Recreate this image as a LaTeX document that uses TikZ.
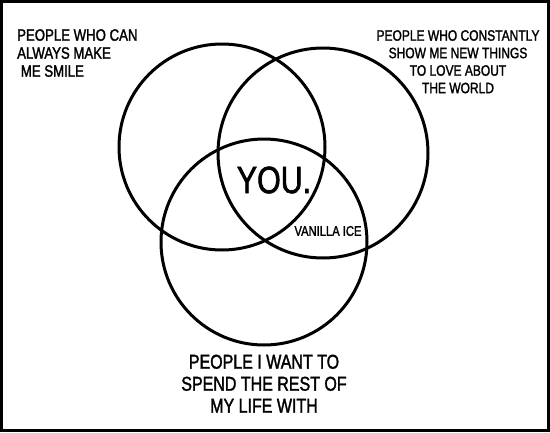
\documentclass[tikz,border=0pt]{standalone}
\usepackage{fontspec}
\setmainfont{Liberation Sans}[FakeStretch=0.8, FakeBold=1.6]
\usepackage{tikz}
\usetikzlibrary{positioning}

\begin{document}
\begin{tikzpicture}[x=1pt, y=-1pt,
  venn/.style={draw, circle, line width=3pt, inner sep=0pt},
  lbl/.style={inner sep=0pt, font=\fontsize{16.5}{18}\selectfont},
  frame/.style={line width=3pt}
]
\useasboundingbox (0,0) rectangle (550,432);
\draw[frame] (1.5,1.5) rectangle (548.5,430.5);

\node[venn, minimum size=206pt] (C1) at (222,147) {};
\node[venn, minimum size=210pt] (C2) at (323,153) {};
\node[venn, minimum size=206pt] (C3) at (264,242) {};

\node[lbl, align=left, anchor=north west] (T1) at (17,29)
  {PEOPLE WHO CAN\\ ALWAYS MAKE\\ \ ME SMILE};
\node[lbl, align=center, anchor=north, font=\fontsize{15}{17.5}\selectfont] (T2) at (458,30)
  {PEOPLE WHO CONSTANTLY\\ SHOW ME NEW THINGS\\ TO LOVE ABOUT\\ THE WORLD};
\node[lbl, align=center, font=\fontsize{20}{22}\selectfont, below=8pt of C3] (T3)
  {PEOPLE I WANT TO\\ SPEND THE REST OF\\ MY LIFE WITH};

\node[lbl, font=\fontsize{38}{40}\selectfont] (You) at (274,180) {YOU.};
\node[lbl, font=\fontsize{14}{16}\selectfont] (Ice) at (328,231) {VANILLA ICE};
\end{tikzpicture}
\end{document}
